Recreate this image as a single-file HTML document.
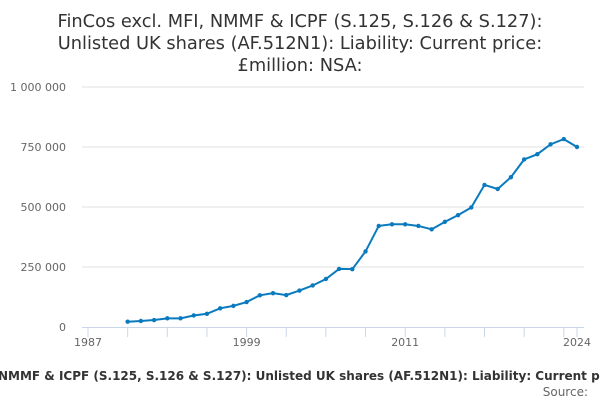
<!DOCTYPE html>
<html><head><meta charset="utf-8"><style>
body{margin:0;width:600px;height:400px;background:#fff;overflow:hidden;font-family:"Liberation Sans","DejaVu Sans",sans-serif}
</style></head><body>
<svg width="600" height="400">
<text x="300" y="27" text-anchor="middle" font-size="17.8" fill="#333" font-family="DejaVu Sans, sans-serif">FinCos excl. MFI, NMMF &amp; ICPF (S.125, S.126 &amp; S.127):</text>
<text x="300" y="49" text-anchor="middle" font-size="17.8" fill="#333" font-family="DejaVu Sans, sans-serif">Unlisted UK shares (AF.512N1): Liability: Current price:</text>
<text x="300" y="71" text-anchor="middle" font-size="17.8" fill="#333" font-family="DejaVu Sans, sans-serif">£million: NSA:</text>
<g id="grid"></g><g id="xax"></g><g id="yax"></g><g id="series"></g>
<text x="-2" y="380" font-size="12" font-weight="bold" fill="#333" font-family="DejaVu Sans, sans-serif">NMMF &amp; ICPF (S.125, S.126 &amp; S.127): Unlisted UK shares (AF.512N1): Liability: Current price</text>
<text x="588" y="396" text-anchor="end" font-size="12" fill="#666" font-family="DejaVu Sans, sans-serif">Source:</text>
</svg>
<script>
const years=[1990,1991,1992,1993,1994,1995,1996,1997,1998,1999,2000,2001,2002,2003,2004,2005,2006,2007,2008,2009,2010,2011,2012,2013,2014,2015,2016,2017,2018,2019,2020,2021,2022,2023,2024];
const values=[22000,25000,29000,36000,36000,48000,55000,78000,88000,104000,132000,141000,133000,152000,173000,200000,242000,241000,315000,421000,428000,428000,421000,407000,438000,466000,498000,592000,575000,624000,698000,720000,761000,783000,750000];
const yTicks=[0,250000,500000,750000,1000000];
const yTickLabels=["0","250 000","500 000","750 000","1 000 000"];
const xLabelYears=[1987,1999,2011,2024];
const NS="http://www.w3.org/2000/svg";
const x=v=>88+(v-1987)*(577-88)/37;
const y=v=>327-v*240/1000000;
function mk(t,a,p){const e=document.createElementNS(NS,t);for(const k in a)e.setAttribute(k,a[k]);p.appendChild(e);return e;}
const grid=document.getElementById('grid'),xax=document.getElementById('xax'),yax=document.getElementById('yax'),ser=document.getElementById('series');
yTicks.forEach((t,i)=>{
 if(t>0){const l=mk('line',{x1:82,x2:584,y1:y(t),y2:y(t),stroke:'#e0e0e0','stroke-width':1},grid);
 
 }
 const tx=mk('text',{x:66,y:y(t)+4,'text-anchor':'end','font-size':11,fill:'#666','font-family':'DejaVu Sans, sans-serif'},yax);
 tx.textContent=yTickLabels[i];
 
 
});
const ax=mk('line',{x1:82,x2:584,y1:327.5,y2:327.5,stroke:'#ccd6eb','stroke-width':1},xax);


for(let yr=1987;yr<=2024;yr+=3){const tk=mk('line',{x1:x(yr),x2:x(yr),y1:327,y2:337,stroke:'#ccd6eb'},xax);
 
 }
const tk2=mk('line',{x1:x(2024),x2:x(2024),y1:327,y2:337,stroke:'#ccd6eb'},xax);


xLabelYears.forEach(yr=>{const t=mk('text',{x:x(yr),y:346,'text-anchor':'middle','font-size':11,fill:'#666','font-family':'DejaVu Sans, sans-serif'},xax);
 t.textContent=yr;
 
 });
const pl=mk('polyline',{points:years.map((yr,i)=>x(yr)+','+y(values[i])).join(' '),fill:'none',stroke:'#0a7abf','stroke-width':2},ser);


years.forEach((yr,i)=>{const c=mk('circle',{cx:x(yr),cy:y(values[i]),r:2.2,fill:'#0a7abf'},ser);
 
 });
</script>
</body></html>
